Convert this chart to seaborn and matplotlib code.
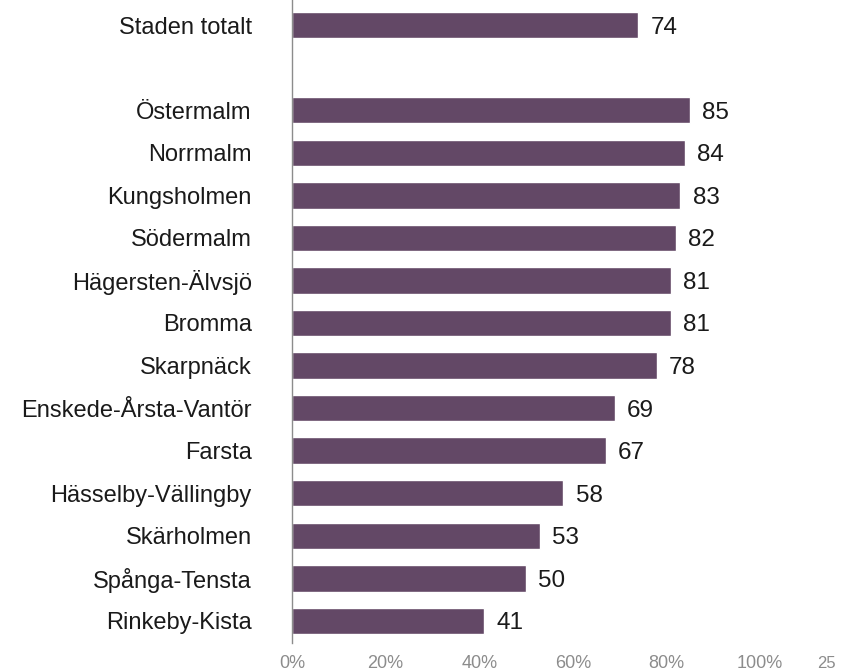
import matplotlib
matplotlib.use("Agg")
import matplotlib.pyplot as plt
import seaborn as sns
import pandas as pd
from matplotlib.ticker import FuncFormatter

sns.set_theme(style="white")
plt.rcParams["font.family"] = ["Liberation Sans", "DejaVu Sans"]

districts = [
    "Staden totalt",
    "Östermalm", "Norrmalm", "Kungsholmen", "Södermalm", "Hägersten-Älvsjö",
    "Bromma", "Skarpnäck", "Enskede-Årsta-Vantör", "Farsta",
    "Hässelby-Vällingby", "Skärholmen", "Spånga-Tensta", "Rinkeby-Kista",
]
values = [74, 85, 84, 83, 82, 81, 81, 78, 69, 67, 58, 53, 50, 41]
x_ticks = [0, 20, 40, 60, 80, 100]

df = pd.DataFrame({"district": districts, "value": values})
# blank slot separating the city total from the districts
order = [districts[0], " "] + districts[1:]

fig = plt.figure(figsize=(8.5, 6.72), dpi=100)
ax = fig.add_axes([292 / 850, 29 / 672, (760 - 292) / 850, 643 / 672])

sns.barplot(data=df, x="value", y="district", order=order, orient="h",
            color="#634866", saturation=1, width=0.62, ax=ax, errorbar=None)

for name, v in zip(districts, values):
    ax.text(v + 2.6, order.index(name), f"{v}", va="center_baseline", ha="left",
            fontsize=17.5, color="#1a1a1a")

ax.set_xlim(0, 100)
ax.set_ylim(14.52, -0.59)
ax.set_xticks(x_ticks)
ax.xaxis.set_major_formatter(FuncFormatter(lambda v, p: f"{int(v)}%"))
ax.tick_params(axis="x", labelsize=13, labelcolor="#8c8c8c", length=0, pad=9)
ax.tick_params(axis="y", labelsize=17, labelcolor="#1a1a1a", length=0, pad=29)
ax.set_xlabel("")
ax.set_ylabel("")
for side in ["top", "right", "bottom"]:
    ax.spines[side].set_visible(False)
ax.spines["left"].set_color("#8c8c8c")
ax.spines["left"].set_linewidth(1)

fig.text(826 / 850, 0.002, "25", ha="center", va="bottom", fontsize=12, color="#8c8c8c")

fig.savefig("out.png", dpi=100)
